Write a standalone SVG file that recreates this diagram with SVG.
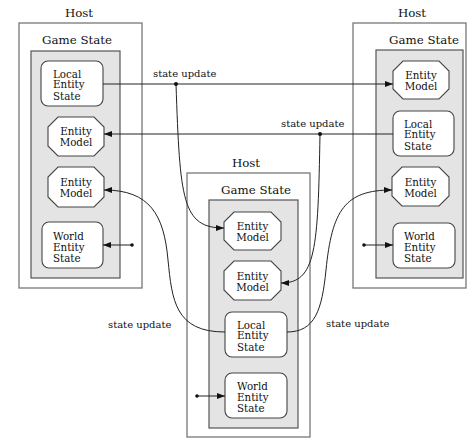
<svg xmlns="http://www.w3.org/2000/svg" width="467" height="439" viewBox="0 0 467 439">
<defs>
<style>
.host{fill:#fff;stroke:#777;stroke-width:1.3}
.gs{fill:#e4e4e4;stroke:#555;stroke-width:1.2}
.node{fill:#fff;stroke:#444;stroke-width:1.1}
.hl{font-family:"DejaVu Serif","Liberation Serif",serif;font-size:11.8px;fill:#111;text-anchor:middle}
.nt{font-family:"DejaVu Serif","Liberation Serif",serif;font-size:10.3px;fill:#111}
.ntc{font-family:"DejaVu Serif","Liberation Serif",serif;font-size:10.3px;fill:#111;text-anchor:middle}
.lbl{font-family:"DejaVu Serif","Liberation Serif",serif;font-size:10px;fill:#111}
.edge{fill:none;stroke:#222;stroke-width:1}
.dot{fill:#111}
</style>
<marker id="ah" markerUnits="userSpaceOnUse" markerWidth="8" markerHeight="6" refX="8" refY="3" orient="auto">
<path d="M0,0 L8,3 L0,6 z" fill="#111"/>
</marker>
</defs>

<g id="host-left">
<text class="hl" x="79" y="17">Host</text>
<rect class="host" x="19" y="23" width="123" height="265"/>
<text class="hl" x="77" y="44">Game State</text>
<rect class="gs" x="31" y="51" width="89" height="227"/>
</g>
<g id="host-right">
<text class="hl" x="412" y="17">Host</text>
<rect class="host" x="353" y="23" width="113" height="265"/>
<text class="hl" x="424" y="44">Game State</text>
<rect class="gs" x="376" y="50" width="87" height="228"/>
</g>
<g id="host-middle">
<text class="hl" x="246" y="167">Host</text>
<rect class="host" x="187" y="173" width="123" height="264"/>
<text class="hl" x="256" y="194">Game State</text>
<rect class="gs" x="209" y="200" width="89" height="228"/>
</g>

<g id="left-local">
<rect class="node" x="41" y="61" width="62" height="45" rx="7"/>
<text class="nt" x="53" y="77.5">Local</text>
<text class="nt" x="53" y="88">Entity</text>
<text class="nt" x="53" y="99.5">State</text>
</g>
<g id="left-model1">
<polygon class="node" points="58,117 94,117 104,127 104,146 94,156 58,156 48,146 48,127"/>
<text class="ntc" x="76" y="135">Entity</text>
<text class="ntc" x="76" y="146">Model</text>
</g>
<g id="left-model2">
<polygon class="node" points="58,167 94,167 104,177 104,197 94,207 58,207 48,197 48,177"/>
<text class="ntc" x="76" y="186">Entity</text>
<text class="ntc" x="76" y="197">Model</text>
</g>
<g id="left-world">
<rect class="node" x="42" y="222" width="61" height="46" rx="7"/>
<text class="nt" x="53" y="240">World</text>
<text class="nt" x="53" y="250.5">Entity</text>
<text class="nt" x="53" y="261.5">State</text>
</g>

<g id="right-model1">
<polygon class="node" points="403,61 439,61 449,71 449,89 439,99 403,99 393,89 393,71"/>
<text class="ntc" x="421" y="79">Entity</text>
<text class="ntc" x="421" y="90">Model</text>
</g>
<g id="right-local">
<rect class="node" x="393" y="111" width="61" height="45" rx="7"/>
<text class="nt" x="404" y="127.5">Local</text>
<text class="nt" x="404" y="138">Entity</text>
<text class="nt" x="404" y="149.5">State</text>
</g>
<g id="right-model2">
<polygon class="node" points="402,167 439,167 449,177 449,196 439,206 402,206 392,196 392,177"/>
<text class="ntc" x="420.5" y="186">Entity</text>
<text class="ntc" x="420.5" y="197">Model</text>
</g>
<g id="right-world">
<rect class="node" x="393" y="223" width="62" height="45" rx="7"/>
<text class="nt" x="404" y="240">World</text>
<text class="nt" x="404" y="250.5">Entity</text>
<text class="nt" x="404" y="261.5">State</text>
</g>

<g id="mid-model1">
<polygon class="node" points="234,212 271,212 281,222 281,240 271,250 234,250 224,240 224,222"/>
<text class="ntc" x="252.5" y="230">Entity</text>
<text class="ntc" x="252.5" y="241">Model</text>
</g>
<g id="mid-model2">
<polygon class="node" points="234,261 271,261 281,271 281,290 271,300 234,300 224,290 224,271"/>
<text class="ntc" x="252.5" y="280">Entity</text>
<text class="ntc" x="252.5" y="291">Model</text>
</g>
<g id="mid-local">
<rect class="node" x="225" y="312" width="62" height="45" rx="7"/>
<text class="nt" x="237" y="328.5">Local</text>
<text class="nt" x="237" y="339">Entity</text>
<text class="nt" x="237" y="350.5">State</text>
</g>
<g id="mid-world">
<rect class="node" x="225" y="373" width="62" height="45" rx="7"/>
<text class="nt" x="237" y="390">World</text>
<text class="nt" x="237" y="400.5">Entity</text>
<text class="nt" x="237" y="411.5">State</text>
</g>

<g id="connectors">
<line class="edge" x1="103" y1="84" x2="393" y2="84" marker-end="url(#ah)"/>
<line class="edge" x1="393" y1="134" x2="104" y2="134" marker-end="url(#ah)"/>
<path class="edge" d="M176,84 C180,200 182,228 224,228" marker-end="url(#ah)"/>
<path class="edge" d="M320,134 C318,250 316,283 281,283" marker-end="url(#ah)"/>
<path class="edge" d="M225,332 C175,332 172,300 168,260 C164,215 150,190 104,190" marker-end="url(#ah)"/>
<path class="edge" d="M287,332 C315,332 322,310 326,270 C332,210 345,190 392,190" marker-end="url(#ah)"/>
<line class="edge" x1="132" y1="245" x2="103" y2="245" marker-end="url(#ah)"/>
<line class="edge" x1="364" y1="245" x2="393" y2="245" marker-end="url(#ah)"/>
<line class="edge" x1="197" y1="396" x2="225" y2="396" marker-end="url(#ah)"/>
<circle class="dot" cx="176" cy="84" r="2"/>
<circle class="dot" cx="320" cy="134" r="2"/>
<circle class="dot" cx="132" cy="245" r="1.8"/>
<circle class="dot" cx="364" cy="245" r="1.8"/>
<circle class="dot" cx="197" cy="396" r="1.8"/>
<text class="lbl" x="153" y="77">state update</text>
<text class="lbl" x="281" y="127">state update</text>
<text class="lbl" x="108" y="328">state update</text>
<text class="lbl" x="326" y="327">state update</text>
</g>
</svg>
